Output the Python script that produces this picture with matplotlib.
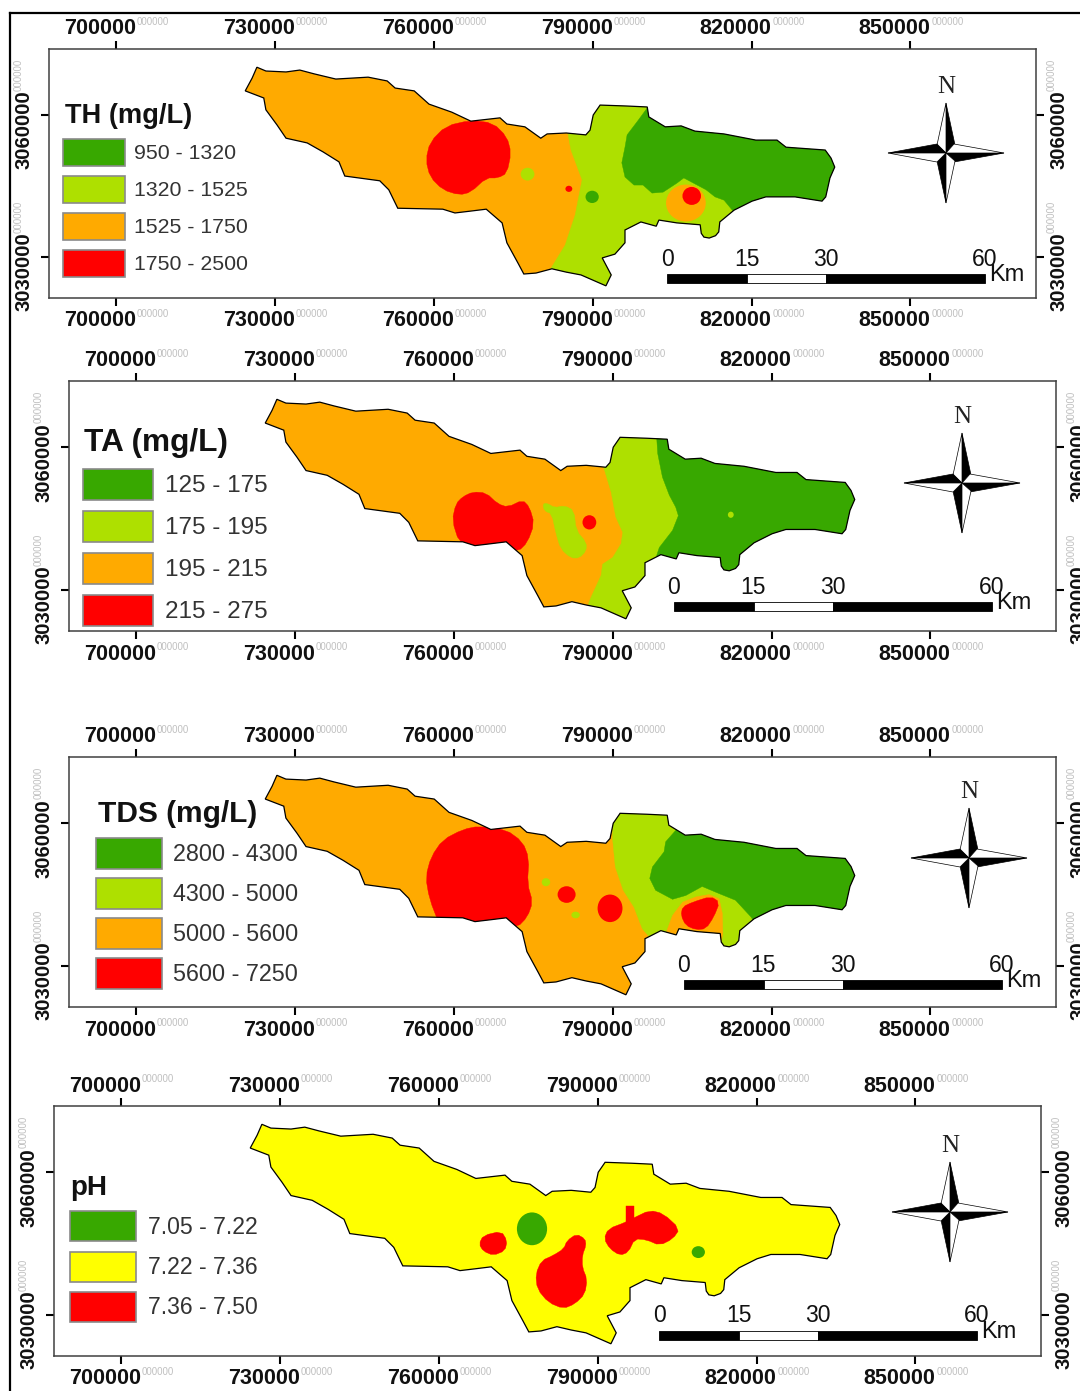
#!/usr/bin/env python3
"""Four hardness / alkalinity / TDS / pH zone maps of one basin, stacked."""
import matplotlib
matplotlib.use("Agg")
import matplotlib.pyplot as plt
import numpy as np
from matplotlib.lines import Line2D
from matplotlib.patches import Ellipse, Polygon, Rectangle

plt.rcParams["font.family"] = ["Liberation Sans", "DejaVu Sans"]

# ---------------------------------------------------------------------------
# Data, map coordinates in km (UTM easting / northing)
# ---------------------------------------------------------------------------
X_TICKS = [700000, 730000, 760000, 790000, 820000, 850000]
Y_TICKS = [3030000, 3060000]

BOUNDARY_E = [726.6, 728.3, 732.1, 734.7, 737.4, 741.5, 747.6, 751.2, 752.7, 756.3, 759.1, 763.4,
              767.0, 772.5, 773.8, 777.2, 780.2, 781.4, 785.0, 788.7, 789.5, 790.1, 791.4, 796.5,
              800.3, 800.6, 803.7, 806.7, 809.3, 814.8, 820.8, 824.8, 826.5, 833.9, 835.0, 835.7,
              834.8, 834.0, 833.3, 828.2, 822.7, 820.1, 816.7, 814.0, 813.8, 813.2, 812.0, 811.0,
              810.5, 810.3, 805.9, 802.5, 802.0, 799.1, 796.1, 796.1, 794.2, 791.8, 793.5, 792.5,
              787.8, 785.0, 782.3, 779.3, 777.0, 775.9, 773.8, 772.9, 769.9, 767.0, 764.0, 761.7,
              753.2, 751.5, 749.8, 743.2, 742.1, 739.1, 736.1, 732.1, 730.4, 728.3, 727.9, 724.4,
              725.7]
BOUNDARY_N = [3070.1, 3069.3, 3069.1, 3069.5, 3068.7, 3067.6, 3068.0, 3067.2, 3065.7, 3065.1,
              3062.3, 3060.6, 3058.7, 3059.4, 3058.1, 3057.5, 3055.1, 3056.0, 3056.2, 3055.8,
              3056.8, 3060.0, 3062.1, 3061.9, 3061.7, 3059.6, 3057.5, 3057.7, 3056.6, 3056.0,
              3054.7, 3054.7, 3053.2, 3052.6, 3050.9, 3049.0, 3046.7, 3042.7, 3041.8, 3042.7,
              3042.7, 3041.8, 3039.9, 3037.4, 3035.3, 3034.5, 3034.0, 3034.2, 3035.0, 3036.8,
              3037.2, 3037.8, 3036.5, 3037.4, 3035.7, 3033.0, 3030.6, 3029.8, 3026.2, 3023.9,
              3026.2, 3026.8, 3027.5, 3026.6, 3026.4, 3028.7, 3033.0, 3037.2, 3040.1, 3039.7,
              3039.3, 3040.1, 3040.3, 3044.2, 3046.1, 3047.1, 3050.1, 3052.2, 3054.1, 3055.1,
              3057.9, 3061.1, 3063.6, 3065.1, 3067.8]

# TH zones
TH_LIGHT_E = [785.0, 785.9, 788.0, 786.7, 784.8, 781.9, 781.9, 838.6, 840.0, 785.0]
TH_LIGHT_N = [3058.0, 3052.6, 3046.3, 3038.9, 3032.5, 3027.2, 3023.0, 3023.0, 3075.0, 3075.0]
TH_DARK_E = [800.3, 798.6, 796.5, 796.1, 795.5, 796.1, 797.8, 799.5, 801.2, 803.3, 805.9, 807.2,
             811.4, 813.1, 814.8, 816.5, 818.8, 840.0, 840.0, 800.3]
TH_DARK_N = [3061.5, 3058.9, 3055.8, 3053.2, 3049.9, 3046.9, 3045.2, 3045.2, 3043.5, 3043.7,
             3045.6, 3046.7, 3044.2, 3042.7, 3042.0, 3039.7, 3036.8, 3036.8, 3075.0, 3075.0]
TH_RED_E = [767.0, 771.2, 773.8, 774.6, 773.8, 772.1, 769.9, 767.0, 764.8, 761.7, 759.3, 758.5,
            759.3, 762.3]
TH_RED_N = [3058.9, 3058.3, 3055.4, 3052.0, 3047.7, 3046.7, 3046.7, 3043.7, 3043.1, 3044.2,
            3046.9, 3050.5, 3054.3, 3057.7]
TH_SPOT_E = [777.7, 785.5, 789.9, 807.6, 808.7]
TH_SPOT_N = [3047.5, 3044.4, 3042.7, 3041.4, 3042.9]
TH_SPOT_W = [2.6, 1.3, 2.5, 7.5, 3.5]
TH_SPOT_H = [2.7, 1.3, 2.6, 7.8, 3.8]
TH_SPOT_C = ["light", "red", "dark", "orange", "red"]

# TA zones
TA_LIGHT_E = [788.3, 789.7, 790.6, 791.9, 791.6, 790.0, 788.1, 787.8, 785.9, 785.5, 785.0, 840.0,
              840.0, 788.3]
TA_LIGHT_N = [3055.8, 3050.6, 3045.3, 3042.1, 3039.7, 3036.8, 3035.4, 3033.0, 3028.4, 3027.3,
              3020.0, 3020.0, 3075.0, 3075.0]
TA_DARK_E = [798.3, 798.5, 799.4, 800.7, 801.9, 802.4, 801.3, 798.8, 798.3, 800.0, 840.0, 840.0, 798.3]
TA_DARK_N = [3062.2, 3058.7, 3053.7, 3049.9, 3047.4, 3045.6, 3042.5, 3038.9, 3037.2, 3030.0,
             3030.0, 3075.0, 3075.0]
TA_ISLE_E = [776.8, 777.7, 779.0, 780.9, 782.7, 783.1, 785.0, 785.0, 783.7, 782.1, 780.2, 779.3,
             778.5, 777.1]
TA_ISLE_N = [3048.1, 3048.2, 3047.3, 3047.7, 3046.7, 3042.5, 3040.0, 3038.2, 3036.7, 3036.7,
             3038.6, 3041.8, 3046.0, 3046.6]
TA_RED_E = [763.6, 766.1, 768.3, 770.2, 773.0, 774.3, 775.2, 773.9, 772.2, 770.5, 763.6, 761.0,
            759.7, 760.4, 761.7]
TA_RED_N = [3050.6, 3050.4, 3048.1, 3047.4, 3048.9, 3047.4, 3043.9, 3040.0, 3038.1, 3038.9,
            3038.9, 3040.0, 3044.6, 3048.1, 3049.6]
TA_SPOT_E = [785.6, 812.3]
TA_SPOT_N = [3044.2, 3045.8]
TA_SPOT_W = [2.6, 1.1]
TA_SPOT_H = [3.0, 1.3]
TA_SPOT_C = ["red", "light"]

# TDS zones
TDS_LIGHT_E = [790.0, 790.5, 792.0, 794.0, 795.6, 797.0, 797.5, 840.0, 840.0, 790.0]
TDS_LIGHT_N = [3056.5, 3050.8, 3045.9, 3042.4, 3037.8, 3036.0, 3033.2, 3033.0, 3075.0, 3075.0]
TDS_ORANGE_E = [800.0, 801.3, 803.2, 805.7, 808.2, 810.1, 810.7, 810.8, 810.4, 800.0]
TDS_ORANGE_N = [3036.7, 3040.6, 3043.4, 3044.5, 3045.0, 3044.1, 3041.0, 3036.7, 3034.6, 3034.6]
TDS_DARK_E = [802.2, 800.0, 799.7, 797.5, 797.0, 798.1, 801.3, 803.8, 806.9, 810.1, 813.2, 816.1,
              818.3, 840.0, 840.0, 802.2]
TDS_DARK_N = [3058.9, 3056.1, 3054.0, 3050.8, 3048.4, 3045.9, 3044.0, 3044.8, 3046.7, 3045.2,
              3043.8, 3040.3, 3036.7, 3036.7, 3075.0, 3075.0]
TDS_RED_E = [764.8, 769.8, 773.0, 774.2, 773.9, 774.9, 773.9, 772.0, 769.8, 757.2, 755.4, 754.7,
             755.7, 757.9, 761.7]
TDS_RED_N = [3059.4, 3058.7, 3056.1, 3052.6, 3047.3, 3043.4, 3040.3, 3038.1, 3038.9, 3038.9,
             3044.1, 3048.7, 3052.9, 3056.5, 3058.7]
TDS_RED2_E = [803.2, 805.1, 808.5, 810.2, 809.1, 807.6, 805.7, 803.8, 802.9]
TDS_RED2_N = [3042.4, 3043.4, 3044.6, 3043.4, 3040.3, 3037.8, 3037.6, 3038.5, 3040.6]
TDS_SPOT_E = [781.3, 789.5, 777.4, 783.0]
TDS_SPOT_N = [3045.0, 3042.1, 3047.6, 3040.7]
TDS_SPOT_W = [3.4, 4.7, 1.6, 1.6]
TDS_SPOT_H = [3.5, 5.8, 1.7, 1.4]
TDS_SPOT_C = ["red", "red", "light", "light"]

# pH zones
PH_DROP_E = [786.0, 787.6, 787.8, 787.1, 787.1, 788.0, 787.6, 785.7, 783.5, 780.7, 778.6, 778.3,
             779.4, 781.6, 783.6, 784.2]
PH_DROP_N = [3047.0, 3046.0, 3044.6, 3042.5, 3040.0, 3037.5, 3034.4, 3032.3, 3031.3, 3032.6,
             3035.4, 3038.6, 3041.4, 3042.5, 3043.9, 3045.6]
PH_LEFT_E = [768.4, 771.8, 772.9, 772.5, 770.3, 768.4, 767.6]
PH_LEFT_N = [3046.7, 3047.6, 3045.6, 3043.5, 3042.5, 3043.4, 3044.9]
PH_RIGHT_E = [795.3, 796.8, 799.8, 802.4, 805.5, 804.2, 801.7, 799.2, 797.0, 795.8, 794.2, 792.3,
              791.2, 792.0]
PH_RIGHT_N = [3049.5, 3050.4, 3052.0, 3051.3, 3048.1, 3046.0, 3044.6, 3045.8, 3046.0, 3043.2,
              3042.5, 3043.9, 3046.0, 3048.1]
PH_TAB_E = [795.3, 796.8, 796.8, 795.3]
PH_TAB_N = [3052.8, 3052.8, 3049.0, 3049.0]
PH_SPOT_E = [777.6, 809.0]
PH_SPOT_N = [3048.1, 3043.2]
PH_SPOT_W = [5.7, 2.5]
PH_SPOT_H = [6.9, 2.5]
PH_SPOT_C = ["dark", "dark"]

# Legends
TH_CLASSES = ["950 - 1320", "1320 - 1525", "1525 - 1750", "1750 - 2500"]
TA_CLASSES = ["125 - 175", "175 - 195", "195 - 215", "215 - 275"]
TDS_CLASSES = ["2800 - 4300", "4300 - 5000", "5000 - 5600", "5600 - 7250"]
PH_CLASSES = ["7.05 - 7.22", "7.22 - 7.36", "7.36 - 7.50"]
SCALE_KM = [0, 15, 30, 60]

COLORS = {"dark": "#38A800", "light": "#AEE000", "orange": "#FFAA00", "red": "#FF0000",
          "yellow": "#FFFF00"}
W, H = 1080, 1391
PX_PER_KM = 5.3


def smooth(e, n):
    # one pass of corner cutting, the digitised blobs are too angular otherwise
    pts = np.column_stack([e, n]) * 1000.0
    nxt = np.roll(pts, -1, axis=0)
    out = np.empty((len(pts) * 2, 2))
    out[0::2] = 0.75 * pts + 0.25 * nxt
    out[1::2] = 0.25 * pts + 0.75 * nxt
    return out


def text2(ax, s, xy, dx, dy, **kw):
    ax.annotate(s, xy=xy, xycoords=("data", "axes fraction") if xy[1] in (0, 1) else ("axes fraction", "data"),
                xytext=(dx, dy), textcoords="offset pixels", annotation_clip=False, **kw)


def map_panel(frame, base, zones, spots):
    x0, y0, x1, y1 = frame
    ax = fig.add_axes([x0 / W, 1 - y1 / H, (x1 - x0) / W, (y1 - y0) / H])
    ax.set_xlim(687350, 873700)
    ax.set_ylim(3021330, 3073950)

    outline = np.column_stack([BOUNDARY_E, BOUNDARY_N]) * 1000.0
    clip = Polygon(outline, closed=True, facecolor=COLORS[base], edgecolor="none", zorder=1)
    ax.add_patch(clip)
    for name, e, n, rounded in zones:
        verts = smooth(e, n) if rounded else np.column_stack([e, n]) * 1000.0
        p = Polygon(verts, closed=True, facecolor=COLORS[name], edgecolor=COLORS[name], lw=0.3, zorder=2)
        ax.add_patch(p)
        p.set_clip_path(clip)
    for e, n, w, h, c in zip(*spots):
        el = Ellipse((e * 1000, n * 1000), w * 1000, h * 1000, facecolor=COLORS[c], edgecolor="none", zorder=3)
        ax.add_patch(el)
        el.set_clip_path(clip)
    ax.add_patch(Polygon(outline, closed=True, fill=False, edgecolor="black", lw=0.9, zorder=4))

    ax.set_xticks(X_TICKS)
    ax.set_yticks(Y_TICKS)
    ax.set_xticklabels([])
    ax.set_yticklabels([])
    ax.tick_params(top=True, bottom=True, left=True, right=True, length=6, width=1.5, color="black")
    for s in ax.spines.values():
        s.set_color("#404040")
        s.set_linewidth(1.1)

    num = dict(fontsize=15.5, fontweight="bold", color="#111111", va="center", ha="center")
    tiny = dict(fontsize=7, color="#c0c0c0", va="center", ha="center")
    for v in X_TICKS:
        text2(ax, str(v), (v, 1), -16, 20, **num)
        text2(ax, "000000", (v, 1), 37, 27, **tiny)
        text2(ax, str(v), (v, 0), -16, -23, **num)
        text2(ax, "000000", (v, 0), 37, -16, **tiny)
    for v in Y_TICKS:
        for fx, dx_num, dx_tiny in ((0, -25, -30), (1, 23, 16)):
            text2(ax, str(v), (fx, v), dx_num, -15, rotation=90, **{**num, "fontsize": 14.6})
            text2(ax, "000000", (fx, v), dx_tiny, 40, rotation=90, **tiny)
    return ax


def legend(title, tx, ty, tsize, classes, colors, sx0, sx1, tops, sh, lx, lsize):
    over.text(tx, ty, title, fontsize=tsize, fontweight="bold", va="center", ha="left", color="#111111")
    for lab, col, t in zip(classes, colors, tops):
        over.add_patch(Rectangle((sx0, t), sx1 - sx0, sh, facecolor=COLORS[col], edgecolor="#8a8a8a", lw=1.2))
        over.text(lx, t + sh / 2 + 1, lab, fontsize=lsize, va="center", ha="left", color="#333333")


def scale_bar(left, top):
    edges = [left + k * PX_PER_KM for k in SCALE_KM]
    for i, c in enumerate(["black", "white", "black"]):
        over.add_patch(Rectangle((edges[i], top), edges[i + 1] - edges[i], 9, facecolor=c,
                                 edgecolor="black", lw=0.6))
    for k, e in zip(SCALE_KM, edges):
        over.text(e, top - 15, str(k), fontsize=16.5, va="center", ha="center", color="#111111")
    over.text(edges[-1] + 4, top + 1, "Km", fontsize=17, va="center", ha="left", color="#111111")


def north_arrow(cx, cy):
    arms = [((0, -50), (9, -8), (-9, -8)), ((58, 0), (8, 9), (8, -9)),
            ((0, 50), (-9, 8), (9, 8)), ((-58, 0), (-9, -9), (-9, 9))]
    for tip, blk, wht in arms:
        over.add_patch(Polygon([(cx, cy), (cx + tip[0], cy + tip[1]), (cx + blk[0], cy + blk[1])],
                               facecolor="black", edgecolor="black", lw=0.5))
        over.add_patch(Polygon([(cx, cy), (cx + tip[0], cy + tip[1]), (cx + wht[0], cy + wht[1])],
                               facecolor="white", edgecolor="black", lw=0.5))
    over.text(cx, cy - 66, "N", family="Liberation Serif", fontsize=18, va="center", ha="center", color="#222222")


fig = plt.figure(figsize=(W / 100, H / 100), dpi=100)

map_panel((49, 49, 1036, 298), "orange",
          [("light", TH_LIGHT_E, TH_LIGHT_N, False), ("dark", TH_DARK_E, TH_DARK_N, False),
           ("red", TH_RED_E, TH_RED_N, True)],
          (TH_SPOT_E, TH_SPOT_N, TH_SPOT_W, TH_SPOT_H, TH_SPOT_C))
map_panel((69, 381, 1056, 631), "orange",
          [("light", TA_LIGHT_E, TA_LIGHT_N, False), ("dark", TA_DARK_E, TA_DARK_N, False),
           ("light", TA_ISLE_E, TA_ISLE_N, True), ("red", TA_RED_E, TA_RED_N, True)],
          (TA_SPOT_E, TA_SPOT_N, TA_SPOT_W, TA_SPOT_H, TA_SPOT_C))
map_panel((69, 757, 1056, 1007), "orange",
          [("light", TDS_LIGHT_E, TDS_LIGHT_N, False), ("orange", TDS_ORANGE_E, TDS_ORANGE_N, False),
           ("dark", TDS_DARK_E, TDS_DARK_N, False), ("red", TDS_RED_E, TDS_RED_N, True),
           ("red", TDS_RED2_E, TDS_RED2_N, True)],
          (TDS_SPOT_E, TDS_SPOT_N, TDS_SPOT_W, TDS_SPOT_H, TDS_SPOT_C))
map_panel((54, 1106, 1041, 1356), "yellow",
          [("red", PH_DROP_E, PH_DROP_N, True), ("red", PH_LEFT_E, PH_LEFT_N, True),
           ("red", PH_RIGHT_E, PH_RIGHT_N, True), ("red", PH_TAB_E, PH_TAB_N, False)],
          (PH_SPOT_E, PH_SPOT_N, PH_SPOT_W, PH_SPOT_H, PH_SPOT_C))

# overlay in reference pixels for the map furniture
over = fig.add_axes([0, 0, 1, 1], zorder=10)
over.set_xlim(0, W)
over.set_ylim(H, 0)
over.axis("off")

four = ["dark", "light", "orange", "red"]
legend("TH (mg/L)", 65, 116, 19.6, TH_CLASSES, four, 63, 125, [139, 176, 213, 250], 27, 134, 15.3)
legend("TA (mg/L)", 84, 443, 22.8, TA_CLASSES, four, 83, 153, [469, 511, 553, 595], 31, 165, 17.5)
legend("TDS (mg/L)", 98, 814, 21.5, TDS_CLASSES, four, 96, 162, [838, 878, 918, 958], 31, 173, 16.8)
legend("pH", 70, 1188, 20, PH_CLASSES, ["dark", "yellow", "red"], 70, 136, [1211, 1252, 1292], 30, 148, 16.6)

for left, top in [(667, 274), (674, 602), (684, 980), (659, 1331)]:
    scale_bar(left, top)
for cx, cy in [(946, 153), (962, 483), (969, 858), (950, 1212)]:
    north_arrow(cx, cy)

# page rule along the top and left
fig.add_artist(Line2D([10 / W, 10 / W], [0, 1 - 13 / H], color="black", lw=1.6))
fig.add_artist(Line2D([10 / W, 1], [1 - 13 / H, 1 - 13 / H], color="black", lw=1.6))

fig.savefig("out.png", dpi=100)
